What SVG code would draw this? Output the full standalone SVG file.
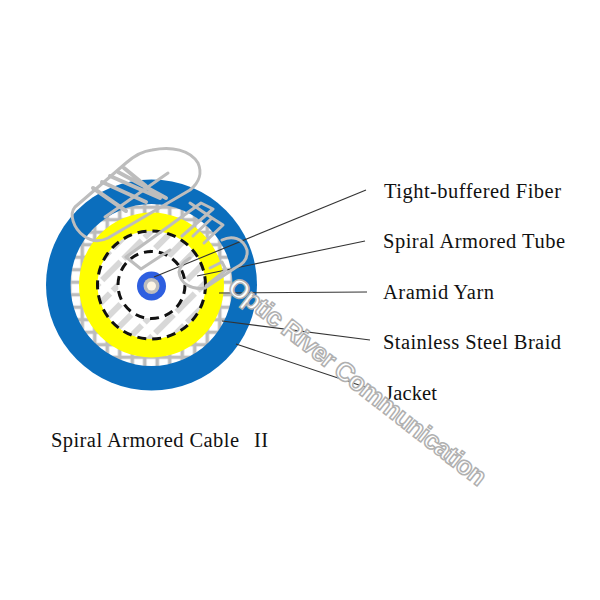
<svg xmlns="http://www.w3.org/2000/svg" width="600" height="600" viewBox="0 0 600 600">
<style>
.lbl{font-family:"Liberation Serif","Times New Roman",serif;font-size:20.5px;fill:#111}
.ld{stroke:#333;stroke-width:1.1;fill:none}
.dash{fill:none;stroke:#111;stroke-width:3;stroke-dasharray:9 6}
.wm{fill:none;stroke:#bdbdbd;stroke-width:3;stroke-linejoin:round;stroke-linecap:round}
.wmc{fill:none;stroke:#bdbdbd;stroke-width:4;stroke-linecap:round}
.wmt{font-family:"Liberation Sans",Arial,sans-serif;font-size:26px;font-weight:bold;fill:#fff;stroke:#b0b0b0;stroke-width:1.5}
</style>
<defs>
<pattern id="grid" width="12.5" height="12.5" patternUnits="userSpaceOnUse" x="1" y="1">
<rect width="12.5" height="12.5" fill="#fff"/>
<path d="M0 6.250H12.500M6.250 0V12.500" stroke="#bcbcbc" stroke-width="3.600"/>
</pattern>
<pattern id="hatch" width="30" height="15" patternUnits="userSpaceOnUse" patternTransform="rotate(-45 151 285)">
<rect width="30" height="15" fill="#fff"/>
<rect x="0" y="4" width="26" height="6" fill="#d8d8d8"/>
</pattern>
</defs>
<rect width="600" height="600" fill="#fff"/>
<g id="jacket"><circle cx="151.500" cy="285" r="105.500" fill="#0b6ebd"/></g>
<g id="braid"><circle cx="151.500" cy="285" r="81" fill="url(#grid)"/></g>
<g id="aramid-yarn"><circle cx="151.500" cy="285" r="72.500" fill="#ffff00"/></g>
<g id="spiral-armored-tube">
<circle cx="151.500" cy="285" r="54" fill="url(#hatch)"/>
<circle cx="151.500" cy="285" r="54" class="dash"/>
<circle cx="151.500" cy="285" r="33.500" fill="#fff"/>
<circle cx="151.500" cy="285" r="33.500" class="dash"/>
</g>
<g id="tight-buffered-fiber">
<circle cx="151.500" cy="286" r="14.500" fill="#2e5fe0"/>
<circle cx="151.500" cy="286" r="8" fill="#bdbdbd"/>
<circle cx="151.500" cy="286" r="4.500" fill="#fdf6e6"/>
</g>
<g id="connectors">
<path class="ld" d="M366 190L154 277"/>
<path class="ld" d="M365 241L197 276"/>
<path class="ld" d="M367 292L219 293"/>
<path class="ld" d="M370 340L222 321"/>
<path class="ld" d="M368 388L236 344"/>
</g>
<g id="labels">
<text class="lbl" x="384" y="198" textLength="177" lengthAdjust="spacing">Tight-buffered Fiber</text>
<text class="lbl" x="383" y="248" textLength="182" lengthAdjust="spacing">Spiral Armored Tube</text>
<text class="lbl" x="383" y="299" textLength="111" lengthAdjust="spacing">Aramid Yarn</text>
<text class="lbl" x="383" y="349" textLength="178" lengthAdjust="spacing">Stainless Steel Braid</text>
<text class="lbl" x="385" y="400" textLength="52" lengthAdjust="spacing">Jacket</text>
<text class="lbl" x="51" y="447" textLength="188" lengthAdjust="spacing">Spiral Armored Cable</text>
<text class="lbl" x="254" y="447" textLength="14" lengthAdjust="spacing">II</text>
</g>
<g id="watermark">
<path class="wm" d="M126 163L75 207C69 214 73 228 84 236C92 242 100 242 108 238L190 190C200 182 202 172 198 163C190 150 172 146 152 150C143 151 134 156 126 163Z"/>
<path class="wm" d="M168 173L105 217"/>
<path class="wmc" d="M93 188L126 211M102 182L146 202M110 176L160 198M118 172L166 198M124 168L146 186"/>
<path class="wm" d="M126 257L201 203L213 209L182 236M126 257L141 269L170 250"/>
<path class="wm" d="M190 203L212 218L193 236M212 218L223 225L204 243"/>
<path class="wm" d="M222 240C232 235 243 238 247 250C248 258 244 264 235 268L205 288C192 290 180 284 179 272C180 265 184 262 190 258"/>
<path class="wm" d="M210 268L222 262L226 270L206 286"/>
<text class="wmt" x="226" y="290" transform="rotate(38 226 290)" textLength="320" lengthAdjust="spacing">Optic River Communication</text>
</g>
</svg>
